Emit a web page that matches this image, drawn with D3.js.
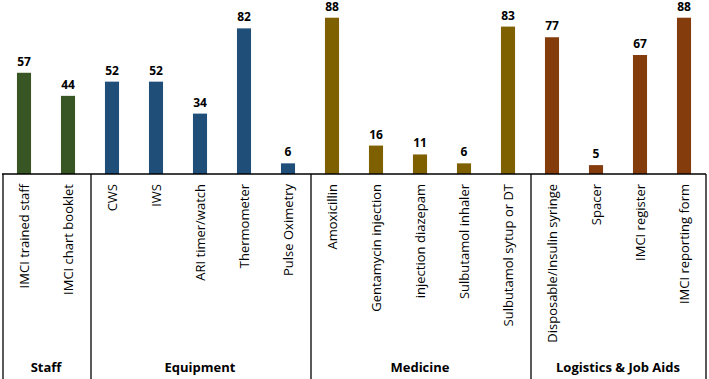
<!DOCTYPE html>
<head>
  <meta charset="UTF-8">
  <title>IMCI availability</title>
  <script src="https://d3js.org/d3.v7.min.js"></script>
  <style>
    body { margin: 0; background: #fff; }
    text { font-family: "Open Sans", sans-serif; fill: #000; }
  </style>
</head>
<body>
<svg id="chart"></svg>
<script>
// data
const categories = ["IMCI trained staff", "IMCI chart booklet",
  "CWS", "IWS", "ARI timer/watch", "Thermometer", "Pulse Oximetry",
  "Amoxicillin", "Gentamycin injection", "injection diazepam", "Sulbutamol inhaler", "Sulbutamol sytup or DT",
  "Disposable/Insulin syringe", "Spacer", "IMCI register", "IMCI reporting form"];
const values = [57, 44, 52, 52, 34, 82, 6, 88, 16, 11, 6, 83, 77, 5, 67, 88];
const groups = ["Staff", "Equipment", "Medicine", "Logistics & Job Aids"];
const groupSizes = [2, 5, 5, 4];
const groupColors = ["#375623", "#1f4e79", "#7f6000", "#843c0c"];

const width = 709, height = 379;
const left = 2, right = 706, axisY = 174;

const svg = d3.select("#chart").attr("width", width).attr("height", height);

const x = d3.scaleBand().domain(categories).range([left, right]).paddingInner(0.68).paddingOuter(0.34);
const y = d3.scaleLinear().domain([0, 100]).range([axisY, axisY - 177.6]);

// which group each bar belongs to
const groupOf = [];
groupSizes.forEach((n, g) => { for (let i = 0; i < n; i++) groupOf.push(g); });

svg.append("g").selectAll("rect")
  .data(values)
  .enter().append("rect")
    .attr("x", (d, i) => x(categories[i]))
    .attr("y", d => y(d))
    .attr("width", x.bandwidth())
    .attr("height", d => y(0) - y(d))
    .attr("fill", (d, i) => groupColors[groupOf[i]]);

svg.append("g").selectAll("text")
  .data(values)
  .enter().append("text")
    .attr("x", (d, i) => x(categories[i]) + x.bandwidth() / 2)
    .attr("y", d => y(d) - 7)
    .attr("text-anchor", "middle")
    .style("font-size", "12px")
    .style("font-weight", "bold")
    .text(d => d);

// axis line
svg.append("line")
  .attr("x1", left).attr("x2", right)
  .attr("y1", axisY).attr("y2", axisY)
  .attr("stroke", "#000").attr("stroke-width", 1.3);

// category labels, rotated
const step = x.step();
svg.append("g").selectAll("text")
  .data(categories)
  .enter().append("text")
    .attr("transform", d => `translate(${x(d) + x.bandwidth() / 2 + 5},184) rotate(-90)`)
    .attr("text-anchor", "end")
    .style("font-size", "13px")
    .text(d => d);

// group separators and names
let start = 0;
const bounds = [0];
groupSizes.forEach(n => { start += n; bounds.push(start); });

svg.append("g").selectAll("line")
  .data(bounds)
  .enter().append("line")
    .attr("x1", b => left + 1 + b * step - (b === bounds[bounds.length - 1] ? 1 : 0))
    .attr("x2", b => left + 1 + b * step - (b === bounds[bounds.length - 1] ? 1 : 0))
    .attr("y1", axisY).attr("y2", height)
    .attr("stroke", "#000").attr("stroke-width", 1.3);

svg.append("g").selectAll("text")
  .data(groups)
  .enter().append("text")
    .attr("x", (d, g) => left + (bounds[g] + bounds[g + 1]) / 2 * step)
    .attr("y", 372)
    .attr("text-anchor", "middle")
    .style("font-size", "13px")
    .style("font-weight", "bold")
    .text(d => d);
</script>
</body>
